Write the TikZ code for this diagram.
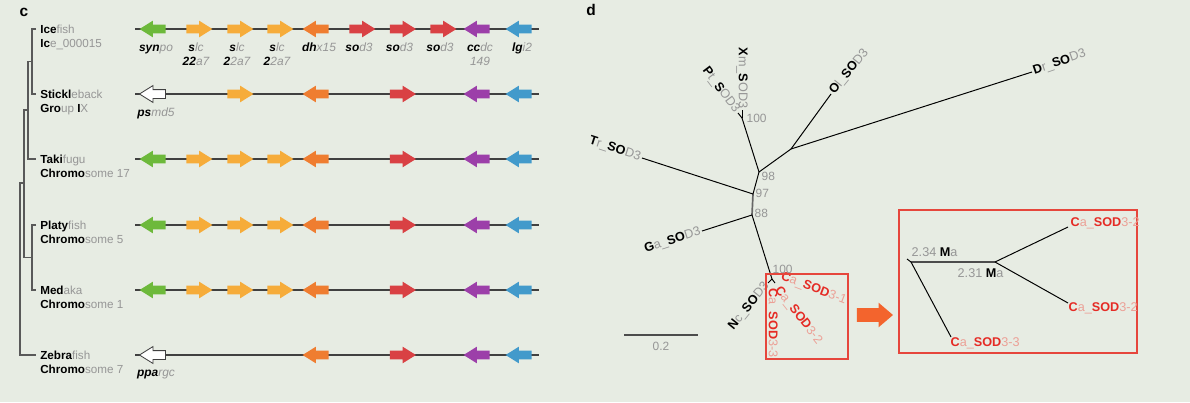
\documentclass[tikz,border=0pt]{standalone}
\usepackage{fontspec}
\setmainfont{Liberation Sans}
\usetikzlibrary{shapes.arrows}
\definecolor{bgpanel}{RGB}{231,236,227}
\definecolor{txtgray}{RGB}{150,150,150}
\definecolor{gnGreen}{RGB}{109,185,59}
\definecolor{gnOrange}{RGB}{246,172,58}
\definecolor{gnDark}{RGB}{239,125,48}
\definecolor{gnRed}{RGB}{217,65,68}
\definecolor{gnPurple}{RGB}{156,63,169}
\definecolor{gnBlue}{RGB}{66,154,203}
\definecolor{caRed}{RGB}{229,43,37}
\definecolor{caPink}{RGB}{236,160,150}
\definecolor{boxRed}{RGB}{230,70,60}
\definecolor{bigArrow}{RGB}{243,100,45}
\newcommand{\bk}[2]{\textbf{#1}{\color{txtgray}#2}}
\newcommand{\rd}[2]{{\color{caRed}\textbf{#1}}{\color{caPink}#2}}
\begin{document}
\begin{tikzpicture}[x=0.025cm, y=-0.025cm,
        gene/.style={single arrow, inner xsep=0pt, inner ysep=0.1cm, single arrow head extend=0.1cm, single arrow tip angle=64, minimum height=0.65cm, draw=none},
        synpo/.style={gene, fill=gnGreen, shape border rotate=180},
        slc/.style={gene, fill=gnOrange},
        dhx/.style={gene, fill=gnDark, shape border rotate=180},
        sod/.style={gene, fill=gnRed},
        ccdc/.style={gene, fill=gnPurple, shape border rotate=180},
        lgi/.style={gene, fill=gnBlue, shape border rotate=180},
        pseudo/.style={gene, fill=white, draw=black!75, line width=0.6pt, shape border rotate=180},
        chrom/.style={draw=black!75, line width=1pt},
        tree/.style={draw=black!65, line width=0.9pt},
        sp/.style={anchor=base west, inner sep=0pt, font=\fontsize{8.3}{10}\selectfont},
        glab/.style={anchor=base, inner sep=0pt, font=\fontsize{8.5}{10}\selectfont\itshape},
        branch/.style={draw=black, line width=0.7pt},
        lf/.style={inner sep=1pt, font=\fontsize{9}{11}\selectfont},
        bs/.style={anchor=west, inner sep=1pt, text=txtgray, font=\fontsize{8.5}{10}\selectfont},
        redbox/.style={draw=boxRed, line width=0.8pt}
    ]
    \useasboundingbox[fill=bgpanel] (0,0) rectangle (1190,402);

    % Panel labels
    \node[font=\bfseries\fontsize{11}{12}\selectfont] (pc) at (24,12) {c};
    \node[font=\bfseries\fontsize{11}{12}\selectfont] (pd) at (591,10) {d};

    % Species tree
    \coordinate (lIce) at (36,29);
    \coordinate (lStk) at (36,94);
    \coordinate (lTak) at (36,159);
    \coordinate (lPla) at (36,225);
    \coordinate (lMed) at (36,290);
    \coordinate (lZeb) at (36,355);
    \coordinate (nIS) at (32,61.5);
    \coordinate (nIST) at (28,110);
    \coordinate (nPM) at (32,257.5);
    \coordinate (nAll) at (24,183);
    \coordinate (nRoot) at (20,269);
    \draw[tree] (lIce) -| (nIS) |- (lStk);
    \draw[tree] (nIS) -| (nIST) |- (lTak);
    \draw[tree] (lPla) -| (nPM) |- (lMed);
    \draw[tree] (nIST) -| (nAll) |- (nPM);
    \draw[tree] (nAll) -| (nRoot) |- (lZeb);

    % Species names
    \node[sp] (iceA) at (40,33) {\bk{Ice}{fish}};
    \node[sp] (iceB) at (40,47) {\bk{Ic}{e\_000015}};
    \node[sp] (stkA) at (40,98) {\bk{Stickl}{eback}};
    \node[sp] (stkB) at (40,112) {\bk{Gro}{up }\bk{I}{X}};
    \node[sp] (takA) at (40,163) {\bk{Taki}{fugu}};
    \node[sp] (takB) at (40,177) {\bk{Chromo}{some 17}};
    \node[sp] (plaA) at (40,229) {\bk{Platy}{fish}};
    \node[sp] (plaB) at (40,243) {\bk{Chromo}{some 5}};
    \node[sp] (medA) at (40,294) {\bk{Med}{aka}};
    \node[sp] (medB) at (40,308) {\bk{Chromo}{some 1}};
    \node[sp] (zebA) at (40,359) {\bk{Zebra}{fish}};
    \node[sp] (zebB) at (40,373) {\bk{Chromo}{some 7}};

    % Chromosome lines
    \foreach \r/\y in {1/29, 2/94, 3/159, 4/225, 5/290, 6/355} {
        \coordinate (c\r a) at (135,\y);
        \coordinate (c\r b) at (539,\y);
        \draw[chrom] (c\r a) -- (c\r b);
    }

    % Icefish
    \node[synpo] (g1synpo) at (156,29) {};
    \node[slc] (g1slcA) at (196,29) {};
    \node[slc] (g1slcB) at (237,29) {};
    \node[slc] (g1slcC) at (277,29) {};
    \node[dhx] (g1dhx) at (319,29) {};
    \node[sod] (g1sodA) at (359,29) {};
    \node[sod] (g1sodB) at (399.5,29) {};
    \node[sod] (g1sodC) at (440,29) {};
    \node[ccdc] (g1ccdc) at (480,29) {};
    \node[lgi] (g1lgi) at (522,29) {};
    \node[glab] (t1synpo) at (156,51) {\bk{syn}{po}};
    \node[glab] (t1slcA) at (196,51) {\bk{s}{lc}};
    \node[glab] (t1slcAn) at (196,65) {\bk{22}{a7}};
    \node[glab] (t1slcB) at (237,51) {\bk{s}{lc}};
    \node[glab] (t1slcBn) at (237,65) {\bk{2}{2a7}};
    \node[glab] (t1slcC) at (277,51) {\bk{s}{lc}};
    \node[glab] (t1slcCn) at (277,65) {\bk{2}{2a7}};
    \node[glab] (t1dhx) at (319,51) {\bk{dh}{x15}};
    \node[glab] (t1sodA) at (359,51) {\bk{so}{d3}};
    \node[glab] (t1sodB) at (399.5,51) {\bk{so}{d3}};
    \node[glab] (t1sodC) at (440,51) {\bk{so}{d3}};
    \node[glab] (t1ccdc) at (480,51) {\bk{cc}{dc}};
    \node[glab, text=txtgray] (t1ccdcn) at (480,65) {149};
    \node[glab] (t1lgi) at (522,51) {\bk{lg}{i2}};

    % Stickleback
    \node[pseudo] (g2psmd) at (156,94) {};
    \node[slc] (g2slc) at (237,94) {};
    \node[dhx] (g2dhx) at (319,94) {};
    \node[sod] (g2sod) at (399.5,94) {};
    \node[ccdc] (g2ccdc) at (480,94) {};
    \node[lgi] (g2lgi) at (522,94) {};
    \node[glab] (t2psmd) at (156,116) {\bk{ps}{md5}};

    % Takifugu, Platyfish, Medaka
    \foreach \r/\y in {3/159, 4/225, 5/290} {
        \node[synpo] (g\r synpo) at (156,\y) {};
        \node[slc] (g\r slcA) at (196,\y) {};
        \node[slc] (g\r slcB) at (237,\y) {};
        \node[slc] (g\r slcC) at (277,\y) {};
        \node[dhx] (g\r dhx) at (319,\y) {};
        \node[sod] (g\r sod) at (399.5,\y) {};
        \node[ccdc] (g\r ccdc) at (480,\y) {};
        \node[lgi] (g\r lgi) at (522,\y) {};
    }

    % Zebrafish
    \node[pseudo] (g6ppa) at (156,355) {};
    \node[dhx] (g6dhx) at (319,355) {};
    \node[sod] (g6sod) at (399.5,355) {};
    \node[ccdc] (g6ccdc) at (480,355) {};
    \node[lgi] (g6lgi) at (522,355) {};
    \node[glab] (t6ppa) at (156,376) {\bk{ppa}{rgc}};

    % SOD3 tree
    \coordinate (n98) at (759,172);
    \coordinate (n97) at (753,194);
    \coordinate (n88) at (752,215);
    \coordinate (nXP) at (742,118);
    \coordinate (lXm) at (742,110);
    \coordinate (lPt) at (738,113);
    \coordinate (nOD) at (791,149);
    \coordinate (lOl) at (831,94);
    \coordinate (lDr) at (1032,72);
    \coordinate (lTr) at (642,158);
    \coordinate (lGa) at (702,231);
    \coordinate (nCa) at (772,279);
    \coordinate (lNc) at (768,283);
    \coordinate (lCa) at (775,283);
    \draw[draw=black!60, line width=1.2pt] (n88) -- (n97);
    \draw[branch] (n97) -- (n98);
    \draw[branch] (n98) -- (nXP);
    \draw[branch] (nXP) -- (lXm);
    \draw[branch] (nXP) -- (lPt);
    \draw[branch] (n98) -- (nOD);
    \draw[branch] (nOD) -- (lOl);
    \draw[branch] (nOD) -- (lDr);
    \draw[branch] (n97) -- (lTr);
    \draw[branch] (n88) -- (lGa);
    \draw[branch] (n88) -- (nCa);
    \draw[branch] (nCa) -- (lNc);
    \draw[branch] (nCa) -- (lCa);

    % Leaf labels
    \node[lf, rotate=-90, anchor=east] (xm) at (lXm) {\bk{X}{m\_}\bk{S}{OD3}};
    \node[lf, rotate=-53, anchor=east] (pt) at (lPt) {\bk{P}{t\_}\bk{S}{OD3}};
    \node[lf, rotate=51, anchor=west] (ol) at (lOl) {\bk{O}{l\_}\bk{SO}{D3}};
    \node[lf, rotate=19, anchor=west] (dr) at (lDr) {\bk{D}{r\_}\bk{SO}{D3}};
    \node[lf, rotate=-18, anchor=east] (tr) at (lTr) {\bk{T}{r\_}\bk{SO}{D3}};
    \node[lf, rotate=18, anchor=east] (ga) at (lGa) {\bk{G}{a\_}\bk{SO}{D3}};
    \node[lf, rotate=51, anchor=east] (nc) at (lNc) {\bk{N}{c\_}\bk{SO}{D3}};
    \node[lf, rotate=-21, anchor=west] (caA) at (780,276) {\rd{C}{a\_}\rd{SOD}{3-1}};
    \node[lf, rotate=-52, anchor=west] (caB) at (776,287) {\rd{C}{a\_}\rd{SOD}{3-2}};
    \node[lf, rotate=-90, anchor=west] (caC) at (772,287) {\rd{C}{a\_}\rd{SOD}{3-3}};

    % Bootstrap values
    \node[bs] (b100a) at (745,118) {100};
    \node[bs] (b98) at (760,176) {98};
    \node[bs] (b97) at (754,193) {97};
    \node[bs] (b88) at (753,213) {88};
    \node[bs] (b100b) at (771,269) {100};

    % Scale bar
    \coordinate (sbA) at (624,335);
    \coordinate (sbB) at (698,335);
    \draw[draw=black!70, line width=1pt] (sbA) -- node[below=1pt, text=txtgray, font=\fontsize{8.5}{10}\selectfont] (sbt) {0.2} (sbB);

    % Zoom box and arrow
    \draw[redbox] (766,274) rectangle (848,359);
    \node[single arrow, fill=bigArrow, draw=none, inner xsep=0pt, inner ysep=0.1625cm, single arrow head extend=0.1375cm, single arrow tip angle=81, minimum height=0.9cm] (zoomarrow) at (871,315) {};
    \draw[redbox] (899,210) rectangle (1137,353);

    % Inset tree
    \coordinate (iR) at (907,259);
    \coordinate (iA) at (911,262);
    \coordinate (iB) at (995,262);
    \coordinate (iU) at (1068,227);
    \coordinate (iL) at (1068,303);
    \coordinate (iC) at (951,337);
    \draw[branch] (iR) -- (iA);
    \draw[draw=black!70, line width=1.1pt] (iA) -- (iB);
    \draw[branch] (iA) -- (iC);
    \draw[branch] (iB) -- (iU);
    \draw[branch] (iB) -- (iL);
    \node[lf, anchor=west] (inU) at (1069,223) {\rd{C}{a\_}\rd{SOD}{3-2}};
    \node[lf, anchor=west] (inL) at (1067,308) {\rd{C}{a\_}\rd{SOD}{3-2}};
    \node[lf, anchor=west] (inC) at (949,343) {\rd{C}{a\_}\rd{SOD}{3-3}};
    \node[lf, anchor=west, text=txtgray] (ageA) at (910,252) {2.34 {\color{black}\textbf{M}}a};
    \node[lf, anchor=west, text=txtgray] (ageB) at (956,273) {2.31 {\color{black}\textbf{M}}a};

\end{tikzpicture}
\end{document}
